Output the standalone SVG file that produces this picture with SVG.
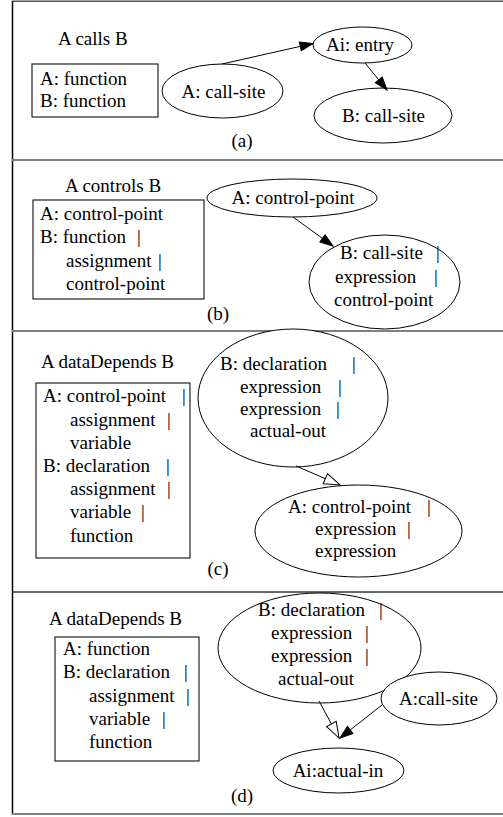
<svg xmlns="http://www.w3.org/2000/svg" width="503" height="817" viewBox="0 0 503 817">
<style>
text{font-family:"Liberation Serif","Times New Roman",serif;font-size:19px;fill:#000}
.m{text-anchor:middle}
.n{fill:#fff;stroke:#000;stroke-width:1}
.b{fill:#fff;stroke:#222;stroke-width:1.2}
.e{stroke:#000;stroke-width:1;fill:none}
.f{marker-end:url(#af)}
.o{marker-end:url(#ao)}
.div{stroke:#808080;stroke-width:2}
</style>
<defs>
<marker id="af" markerUnits="userSpaceOnUse" markerWidth="15" markerHeight="12" refX="14" refY="5.5" orient="auto"><path d="M1,1 L14,5.5 L1,10 z" fill="#000" stroke="#000" stroke-width="1"/></marker>
<marker id="ao" markerUnits="userSpaceOnUse" markerWidth="18" markerHeight="14" refX="17" refY="6.5" orient="auto"><path d="M1,1 L17,6.5 L1,12 z" fill="#fff" stroke="#000" stroke-width="1"/></marker>
</defs>
<rect width="503" height="817" fill="#fff"/>
<g id="frame">
<line x1="12" y1="1.3" x2="503" y2="1.3" stroke="#555" stroke-width="1.5"/>
<line x1="12.5" y1="1" x2="12.5" y2="815" stroke="#000" stroke-width="1.5"/>
<line class="div" x1="12" y1="160" x2="503" y2="160"/>
<line class="div" x1="12" y1="331" x2="503" y2="331"/>
<line x1="12" y1="592" x2="503" y2="592" stroke="#333" stroke-width="1.5"/>
<line class="div" x1="12" y1="814" x2="503" y2="814"/>
</g>
<g id="panel-a">
<text x="58" y="45">A calls B</text>
<g id="a-legend"><rect class="b" x="32" y="64" width="126" height="53"/><text x="40" y="85">A: function</text><text x="40" y="107">B: function</text></g>
<g id="a-callsite"><ellipse class="n" cx="222.5" cy="91" rx="60.5" ry="27"/><text class="m" x="223.5" y="98">A: call-site</text></g>
<g id="a-entry"><ellipse class="n" cx="362.5" cy="45" rx="49.5" ry="18"/><text class="m" x="360" y="51">Ai: entry</text></g>
<g id="a-bcallsite"><ellipse class="n" cx="383" cy="115.5" rx="69" ry="27.5"/><text class="m" x="383.5" y="122">B: call-site</text></g>
<text class="m" x="242" y="147">(a)</text>
</g>
<g id="panel-b">
<text x="65" y="192">A controls B</text>
<g id="b-legend"><rect class="b" x="33" y="200" width="171" height="99"/>
<text x="40" y="220">A: control-point</text>
<text x="40" y="243">B: function <tspan x="137">|</tspan></text>
<text x="66" y="267">assignment <tspan x="158">|</tspan></text>
<text x="66" y="290">control-point</text></g>
<g id="b-cp"><ellipse class="n" cx="292" cy="198" rx="85" ry="19"/><text class="m" x="293" y="204">A: control-point</text></g>
<g id="b-b"><ellipse class="n" cx="384.5" cy="282" rx="75.5" ry="47"/>
<text x="340" y="259">B: call-site <tspan x="436">|</tspan></text>
<text x="335" y="283">expression <tspan x="434">|</tspan></text>
<text x="334" y="306">control-point</text></g>
<text class="m" x="218" y="320">(b)</text>
</g>
<g id="panel-c">
<text x="41" y="368">A dataDepends B</text>
<g id="c-legend"><rect class="b" x="36" y="383" width="154" height="175"/>
<text x="43" y="402">A: control-point <tspan x="182">|</tspan></text>
<text x="70" y="426">assignment <tspan x="167">|</tspan></text>
<text x="70" y="449">variable</text>
<text x="43" y="472">B: declaration <tspan x="166">|</tspan></text>
<text x="70" y="495">assignment <tspan x="167">|</tspan></text>
<text x="70" y="518">variable <tspan x="141">|</tspan></text>
<text x="70" y="542">function</text></g>
<g id="c-b"><ellipse class="n" cx="293" cy="398" rx="95" ry="69"/>
<text x="220" y="370">B: declaration <tspan x="352">|</tspan></text>
<text x="240" y="393">expression <tspan x="338">|</tspan></text>
<text x="240" y="415">expression<tspan x="336">|</tspan></text>
<text x="250" y="437">actual-out</text></g>
<g id="c-a"><ellipse class="n" cx="358.5" cy="531" rx="103.5" ry="46"/>
<text x="288" y="513">A: control-point <tspan x="427">|</tspan></text>
<text x="315" y="535">expression <tspan x="407">|</tspan></text>
<text x="315" y="557">expression</text></g>
<text class="m" x="218" y="575">(c)</text>
</g>
<g id="panel-d">
<text x="49" y="625">A dataDepends B</text>
<g id="d-legend"><rect class="b" x="55" y="637" width="144" height="124"/>
<text x="63" y="655">A: function</text>
<text x="63" y="678">B: declaration <tspan x="184">|</tspan></text>
<text x="89" y="702">assignment <tspan x="186">|</tspan></text>
<text x="89" y="725">variable <tspan x="162">|</tspan></text>
<text x="89" y="748">function</text></g>
<g id="d-b"><ellipse class="n" cx="319.5" cy="648" rx="101.5" ry="55"/>
<text x="258" y="616">B: declaration <tspan x="379">|</tspan></text>
<text x="271" y="639">expression <tspan x="365">|</tspan></text>
<text x="271" y="662">expression <tspan x="365">|</tspan></text>
<text x="278" y="685">actual-out</text></g>
<g id="d-callsite"><ellipse class="n" cx="439" cy="698.5" rx="58" ry="26.5"/><text class="m" x="438.5" y="705">A:call-site</text></g>
<g id="d-actualin"><ellipse class="n" cx="338.5" cy="770.5" rx="65.5" ry="22.5"/><text class="m" x="338" y="777">Ai:actual-in</text></g>
<text class="m" x="242" y="802">(d)</text>
</g>
<g id="connectors">
<line class="e f" x1="222" y1="64" x2="313" y2="43.5"/>
<line class="e f" x1="365" y1="63" x2="387" y2="90"/>
<line class="e f" x1="293" y1="217" x2="333" y2="246"/>
<line class="e o" x1="296" y1="466" x2="340" y2="485"/>
<line class="e o" x1="319" y1="701" x2="339" y2="738"/>
<line class="e f" x1="382" y1="705" x2="340" y2="738"/>
</g>
</svg>
